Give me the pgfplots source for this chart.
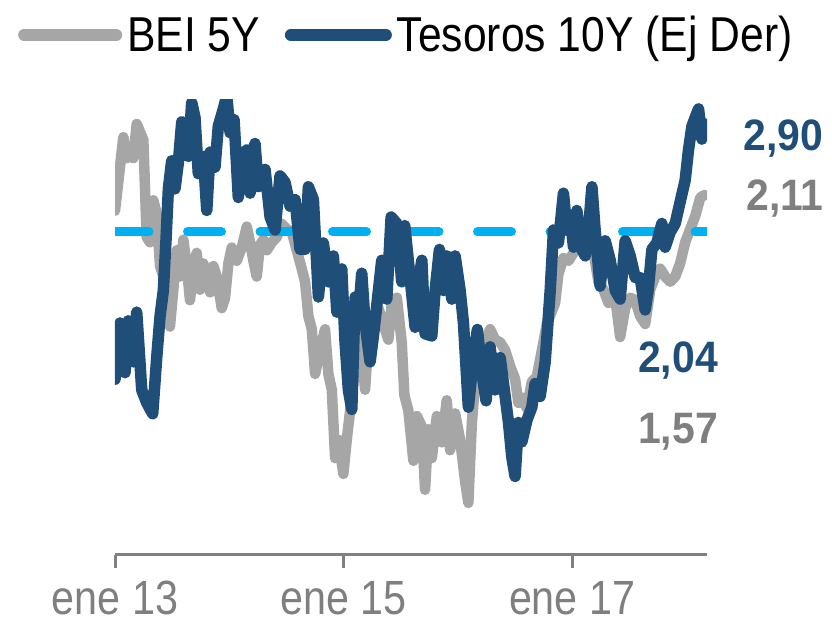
\documentclass[border=0pt]{standalone}
\usepackage{pgfplots}
\pgfplotsset{compat=1.18}
\usepackage{pgfplotstable}
\usepackage{fontspec}
\setmainfont{Liberation Sans}
\newfontfamily\tickfont[FakeStretch=0.86]{Liberation Sans}
\newfontfamily\legfont[FakeStretch=0.87]{Liberation Sans}
\newfontfamily\annfont[FakeStretch=0.93]{Liberation Sans Bold}
\definecolor{bluel}{HTML}{1F4E79}
\definecolor{grayl}{HTML}{A6A6A6}
\definecolor{dashc}{HTML}{00B0F0}
\definecolor{labgray}{HTML}{7F7F7F}
\definecolor{axgray}{HTML}{808080}

\pgfplotstableread{
x y
2013.000 2.05
2013.029 2.16
2013.073 2.33
2013.102 2.25
2013.131 2.27
2013.160 2.25
2013.190 2.38
2013.219 2.35
2013.248 2.32
2013.277 1.95
2013.306 1.93
2013.335 2.09
2013.365 2.04
2013.394 1.84
2013.423 1.80
2013.453 1.68
2013.481 1.61
2013.510 1.75
2013.540 1.90
2013.569 1.80
2013.598 1.94
2013.628 1.84
2013.656 1.71
2013.685 1.83
2013.715 1.89
2013.744 1.75
2013.773 1.85
2013.803 1.80
2013.832 1.74
2013.861 1.84
2013.890 1.80
2013.934 1.68
2013.963 1.72
2013.992 1.85
2014.021 1.91
2014.065 1.86
2014.109 1.91
2014.153 1.99
2014.182 1.93
2014.211 1.86
2014.240 1.80
2014.269 1.92
2014.298 1.94
2014.328 1.90
2014.372 1.93
2014.415 1.95
2014.459 2.00
2014.503 1.98
2014.547 1.97
2014.590 1.90
2014.634 1.83
2014.663 1.78
2014.692 1.65
2014.722 1.60
2014.751 1.43
2014.794 1.52
2014.838 1.60
2014.867 1.43
2014.897 1.37
2014.926 1.11
2014.955 1.18
2014.998 1.05
2015.028 1.18
2015.057 1.29
2015.086 1.40
2015.116 1.49
2015.144 1.62
2015.188 1.37
2015.217 1.56
2015.261 1.65
2015.305 1.68
2015.348 1.62
2015.392 1.56
2015.422 1.70
2015.466 1.72
2015.509 1.55
2015.532 1.35
2015.567 1.29
2015.611 1.10
2015.641 1.27
2015.685 1.23
2015.713 0.99
2015.742 1.22
2015.772 1.11
2015.816 1.27
2015.860 1.17
2015.903 1.33
2015.932 1.14
2015.976 1.28
2016.020 1.18
2016.064 1.02
2016.092 0.94
2016.122 1.24
2016.151 1.40
2016.195 1.51
2016.239 1.55
2016.282 1.60
2016.326 1.56
2016.370 1.55
2016.414 1.52
2016.457 1.46
2016.501 1.41
2016.530 1.32
2016.560 1.34
2016.604 1.30
2016.647 1.40
2016.691 1.42
2016.735 1.52
2016.779 1.62
2016.851 1.70
2016.880 1.81
2016.924 1.87
2016.968 1.86
2017.012 1.89
2017.055 1.94
2017.114 1.98
2017.173 1.93
2017.230 1.78
2017.274 1.75
2017.318 1.70
2017.377 1.72
2017.420 1.57
2017.464 1.68
2017.508 1.72
2017.552 1.71
2017.595 1.65
2017.639 1.62
2017.683 1.75
2017.727 1.80
2017.770 1.83
2017.814 1.80
2017.858 1.78
2017.902 1.80
2017.945 1.85
2017.989 1.93
2018.033 1.98
2018.077 2.03
2018.121 2.10
2018.158 2.11
}\bei

\pgfplotstableread{
x y
2013.000 1.72
2013.044 1.98
2013.088 1.75
2013.116 1.99
2013.160 1.80
2013.190 2.03
2013.234 1.67
2013.278 1.61
2013.330 1.56
2013.365 1.82
2013.394 2.01
2013.423 2.13
2013.446 2.36
2013.467 2.60
2013.496 2.73
2013.525 2.60
2013.554 2.72
2013.584 2.91
2013.613 2.89
2013.642 2.75
2013.671 3.00
2013.700 2.93
2013.729 2.67
2013.773 2.75
2013.803 2.50
2013.832 2.77
2013.875 2.70
2013.904 2.89
2013.948 2.97
2013.978 3.03
2014.007 2.86
2014.042 2.92
2014.079 2.56
2014.109 2.75
2014.153 2.78
2014.182 2.58
2014.225 2.81
2014.254 2.61
2014.284 2.63
2014.313 2.69
2014.357 2.47
2014.401 2.41
2014.444 2.66
2014.488 2.63
2014.532 2.52
2014.576 2.55
2014.619 2.32
2014.663 2.32
2014.692 2.61
2014.736 2.55
2014.780 2.10
2014.823 2.35
2014.867 2.17
2014.911 2.29
2014.941 2.03
2014.984 2.23
2015.013 1.89
2015.042 1.67
2015.072 1.58
2015.101 2.10
2015.130 2.01
2015.159 2.21
2015.188 1.98
2015.232 1.80
2015.261 1.92
2015.305 2.13
2015.334 2.27
2015.378 2.09
2015.416 2.47
2015.466 2.44
2015.509 2.17
2015.535 2.43
2015.582 2.19
2015.626 1.96
2015.655 2.17
2015.685 2.27
2015.713 1.93
2015.772 1.92
2015.801 2.13
2015.839 2.32
2015.874 2.13
2015.903 2.29
2015.947 2.09
2015.976 2.29
2016.020 2.13
2016.049 1.98
2016.092 1.59
2016.136 1.82
2016.171 1.95
2016.210 1.75
2016.247 1.62
2016.282 1.87
2016.326 1.67
2016.370 1.82
2016.414 1.64
2016.443 1.52
2016.472 1.36
2016.501 1.27
2016.530 1.52
2016.560 1.43
2016.604 1.53
2016.647 1.59
2016.676 1.70
2016.720 1.64
2016.764 1.80
2016.808 2.13
2016.837 2.41
2016.880 2.35
2016.924 2.58
2016.954 2.41
2016.983 2.47
2017.012 2.33
2017.041 2.50
2017.085 2.32
2017.114 2.29
2017.143 2.41
2017.173 2.61
2017.201 2.41
2017.245 2.15
2017.289 2.36
2017.333 2.27
2017.377 2.13
2017.420 2.09
2017.464 2.36
2017.508 2.29
2017.552 2.19
2017.595 2.19
2017.639 2.04
2017.665 2.13
2017.698 2.32
2017.741 2.35
2017.785 2.44
2017.814 2.33
2017.858 2.40
2017.902 2.44
2017.945 2.54
2017.989 2.64
2018.018 2.78
2018.048 2.89
2018.077 2.93
2018.106 2.97
2018.135 2.83
2018.158 2.90
}\tesoros

\begin{document}
\begin{tikzpicture}
\useasboundingbox (0,0) rectangle (832pt,628pt);
\begin{axis}[
  at={(115pt,73pt)}, anchor=south west,
  scale only axis, width=592pt, height=455pt,
  xmin=2013, xmax=2018.18,
  ymin=0.742, ymax=2.471,
  axis x line=bottom, axis y line=none,
  x axis line style={-, line width=3pt, color=axgray},
  xtick={2013,2015,2017},
  xticklabels={ene 13, ene 15, ene 17},
  tick align=outside,
  major tick length=13pt,
  x tick style={line width=3pt, color=axgray},
  ytick=\empty,
  xticklabel style={font=\tickfont\fontsize{48}{52}\selectfont, text=labgray, anchor=base, inner sep=0pt, yshift=-46.5pt},
  clip=true,
]
\addplot[color=grayl, line width=10.5pt, line join=round, line cap=round] table {\bei};
\addplot[color=dashc, line width=9pt, line cap=round, dash pattern=on 34pt off 38.5pt] coordinates {(2013,1.97) (2018.20,1.97)};
\end{axis}
\begin{axis}[
  at={(115pt,73pt)}, anchor=south west,
  scale only axis, width=592pt, height=455pt,
  xmin=2013, xmax=2018.18,
  ymin=0.907, ymax=3.011,
  hide axis,
  clip mode=individual,
  legend columns=2,
  legend style={draw=none, fill=none, at={(axis description cs:-0.1639,1.143)}, anchor=west,
    inner sep=0pt, font=\legfont\fontsize{49}{52}\selectfont,
    nodes={inner xsep=5pt, inner ysep=0pt},
    /tikz/every even column/.append style={column sep=20pt}},
  legend cell align=left,
]
\addlegendimage{legend image code/.code={\draw[color=grayl, line width=12pt, line cap=round] (0pt,0pt) -- (92pt,0pt);}}
\addlegendentry{BEI 5Y}
\addplot[color=bluel, line width=11.5pt, line join=round, line cap=round,
  legend image code/.code={\draw[color=bluel, line width=12pt, line cap=round] (0pt,0pt) -- (95pt,0pt);}] table {\tesoros};
\addlegendentry{Tesoros 10Y (Ej Der)}
\node[anchor=base west, inner sep=0pt, font=\annfont\fontsize{44}{48}\selectfont, text=bluel] at (rel axis cs:1.061,0.890) {2,90};
\node[anchor=base west, inner sep=0pt, font=\annfont\fontsize{44}{48}\selectfont, text=labgray] at (rel axis cs:1.066,0.758) {2,11};
\node[anchor=base west, inner sep=0pt, font=\annfont\fontsize{44}{48}\selectfont, text=bluel] at (rel axis cs:0.8834,0.400) {2,04};
\node[anchor=base west, inner sep=0pt, font=\annfont\fontsize{44}{48}\selectfont, text=labgray] at (rel axis cs:0.8834,0.246) {1,57};
\end{axis}
\end{tikzpicture}
\end{document}
